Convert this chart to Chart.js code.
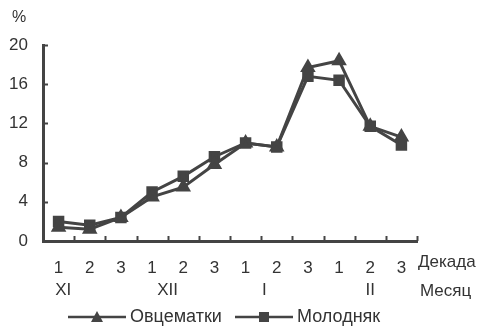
<!DOCTYPE html>
<html>
<head>
<meta charset="utf-8">
<script src="https://cdn.jsdelivr.net/npm/chart.js@4.4.0/dist/chart.umd.min.js"></script>
<style>
  html, body { margin: 0; padding: 0; background: #fff; }
  #wrap { width: 478px; height: 326px; }
</style>
</head>
<body>
<div id="wrap"><canvas id="chart" width="478" height="326"></canvas></div>
<script>
// decades (x categories)
var decades = ['1', '2', '3', '1', '2', '3', '1', '2', '3', '1', '2', '3'];
// month labels and where they sit on the decade axis
var months = ['XI', 'XII', 'I', 'II'];
var monthPos = [0.15, 3.5, 6.6, 10];
var yTicks = [0, 4, 8, 12, 16, 20];

var ewes = [1.4, 1.2, 2.4, 4.5, 5.5, 7.8, 10.0, 9.6, 17.7, 18.4, 11.7, 10.6];
var young = [2.0, 1.6, 2.4, 5.0, 6.6, 8.6, 10.0, 9.6, 16.8, 16.4, 11.7, 9.8];

var ink = '#444';
var textInk = '#333';
var font = 'Liberation Sans, Arial, sans-serif';

var extras = {
  id: 'extras',
  afterDraw: function(chart) {
    var ctx = chart.ctx;
    var xs = chart.scales.x, ys = chart.scales.y;
    var area = chart.chartArea;
    ctx.save();
    ctx.strokeStyle = ink;
    ctx.lineWidth = 2;
    // x tick marks between decades, pointing up
    for (var i = 1; i <= decades.length; i++) {
      var px = Math.round(xs.getPixelForValue(i - 0.5)) + 0.5;
      ctx.beginPath();
      ctx.moveTo(px, area.bottom);
      ctx.lineTo(px, area.bottom - 5);
      ctx.stroke();
    }
    // y tick marks pointing right
    yTicks.forEach(function(v) {
      if (v === 0) return;
      var py = Math.round(ys.getPixelForValue(v)) + 0.5;
      ctx.beginPath();
      ctx.moveTo(area.left, py);
      ctx.lineTo(area.left + 5, py);
      ctx.stroke();
    });
    ctx.fillStyle = textInk;
    ctx.font = '17px ' + font;
    ctx.textBaseline = 'middle';
    ctx.textAlign = 'center';
    months.forEach(function(m, k) {
      ctx.fillText(m, xs.getPixelForValue(monthPos[k]), 290);
    });
    ctx.textAlign = 'left';
    ctx.fillText('Декада', 418, 262);
    ctx.fillText('Месяц', 420, 291);
    ctx.font = '16px ' + font;
    ctx.fillText('%', 12, 18);

    // legend
    var ly = 317;
    ctx.font = '18px ' + font;
    function item(x0, style, label) {
      ctx.fillStyle = ink;
      ctx.lineWidth = 2.5;
      ctx.beginPath();
      ctx.moveTo(x0, ly);
      ctx.lineTo(x0 + 58, ly);
      ctx.stroke();
      var cx = x0 + 29;
      ctx.beginPath();
      if (style === 'triangle') {
        ctx.moveTo(cx, ly - 6);
        ctx.lineTo(cx + 6, ly + 5);
        ctx.lineTo(cx - 6, ly + 5);
        ctx.closePath();
      } else {
        ctx.rect(cx - 5, ly - 5, 10, 10);
      }
      ctx.fill();
      ctx.fillStyle = textInk;
      ctx.fillText(label, x0 + 62, ly);
    }
    item(68, 'triangle', 'Овцематки');
    item(235, 'rect', 'Молодняк');
    ctx.restore();
  }
};

new Chart(document.getElementById('chart'), {
  type: 'line',
  data: {
    labels: decades,
    datasets: [
      {
        label: 'Овцематки',
        data: ewes,
        borderColor: ink,
        backgroundColor: ink,
        borderWidth: 3,
        pointStyle: 'triangle',
        pointRadius: 6,
        tension: 0
      },
      {
        label: 'Молодняк',
        data: young,
        borderColor: ink,
        backgroundColor: ink,
        borderWidth: 3,
        pointStyle: 'rect',
        pointRadius: 6,
        tension: 0
      }
    ]
  },
  options: {
    responsive: false,
    animation: false,
    layout: { padding: { top: 45, right: 61, left: 0, bottom: 0 } },
    plugins: {
      legend: { display: false },
      tooltip: { enabled: false }
    },
    scales: {
      x: {
        type: 'category',
        offset: true,
        afterFit: function(s) { s.height = 85; },
        grid: { display: false, drawTicks: false },
        border: { display: true, color: ink, width: 3 },
        ticks: {
          color: textInk,
          font: { family: font, size: 17 },
          padding: 17,
          maxRotation: 0,
          autoSkip: false
        }
      },
      y: {
        min: 0,
        max: 20,
        afterFit: function(s) { s.width = 43; },
        afterBuildTicks: function(s) {
          s.ticks = yTicks.map(function(v) { return { value: v }; });
        },
        grid: { display: false, drawTicks: false },
        border: { display: true, color: ink, width: 3 },
        ticks: {
          color: textInk,
          font: { family: font, size: 17 },
          padding: 15
        }
      }
    }
  },
  plugins: [extras]
});
</script>
</body>
</html>
